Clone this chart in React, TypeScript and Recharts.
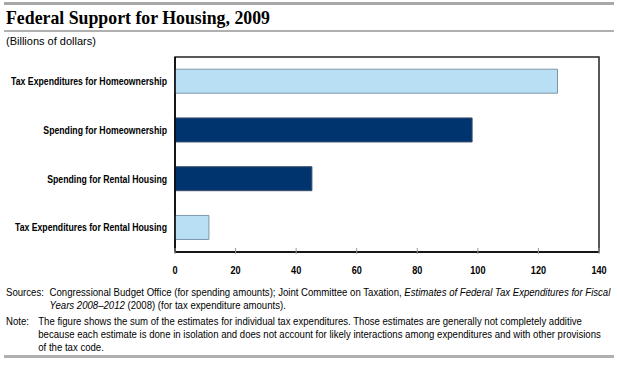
import React from 'react';
import { BarChart, Bar, XAxis, YAxis, Cell, ReferenceArea } from 'recharts';

const CATEGORIES = [
  'Tax Expenditures for Homeownership',
  'Spending for Homeownership',
  'Spending for Rental Housing',
  'Tax Expenditures for Rental Housing',
];
const VALUES = [126.3, 98.1, 45.2, 11.2];
const KINDS = ['tax', 'spending', 'spending', 'tax'];
const X_TICKS = [0, 20, 40, 60, 80, 100, 120, 140];

const FILL: Record<string, string> = { tax: '#b9dff5', spending: '#00346f' };
const EDGE: Record<string, string> = { tax: '#7d97aa', spending: '#3a4f69' };

const data = CATEGORIES.map((name, i) => ({ name, value: VALUES[i], kind: KINDS[i] }));

const sans = 'Arial, "Liberation Sans", sans-serif';
const SQUEEZE = 0.83; // the original uses a condensed face

// ticks point up into the plot, label below the axis
const XTick = (props: any) => {
  const { x, y, payload } = props;
  return (
    <g>
      <line x1={x} y1={y} x2={x} y2={y - 6} stroke="#999" strokeWidth={1} />
      <text
        transform={`translate(${x},${y + 20}) scale(${SQUEEZE},1)`}
        textAnchor="middle"
        fontFamily={sans}
        fontWeight="bold"
        fontSize={11}
        fill="#000"
      >
        {payload.value}
      </text>
    </g>
  );
};

const YTick = (props: any) => {
  const { x, y, payload } = props;
  return (
    <text
      transform={`translate(${x},${y}) scale(${SQUEEZE},1)`}
      textAnchor="end"
      dy="0.35em"
      fontFamily={sans}
      fontWeight="bold"
      fontSize={10.5}
      fill="#000"
    >
      {payload.value}
    </text>
  );
};

const App = () => {
  return (
    <div style={{ position: 'absolute', left: 0, top: 0, width: 617, height: 365, background: '#fff', fontFamily: sans }}>
      <div style={{ position: 'absolute', left: 4, top: 2, width: 610, height: 3, background: '#a8a8a8' }} />
      <div style={{ position: 'absolute', left: 6, top: 8, fontFamily: '"Liberation Serif", serif', fontWeight: 'bold', fontSize: 17.8, color: '#000', whiteSpace: 'nowrap' }}>
        Federal Support for Housing, 2009
      </div>
      <div style={{ position: 'absolute', left: 4, top: 30, width: 610, height: 2, background: '#b0b0b0' }} />
      <div style={{ position: 'absolute', left: 6, top: 35, fontSize: 11, color: '#000' }}>(Billions of dollars)</div>

      <div style={{ position: 'absolute', left: 0, top: 0 }}>
        <BarChart
          width={617}
          height={280}
          data={data}
          layout="vertical"
          margin={{ top: 57, right: 18, bottom: 0, left: 0 }}
          barCategoryGap="25%"
        >
          <XAxis
            type="number"
            domain={[0, 140]}
            ticks={X_TICKS}
            height={28}
            tickSize={0}
            tickLine={false}
            axisLine={{ stroke: '#000', strokeWidth: 1.5 }}
            tick={<XTick />}
            interval={0}
          />
          <YAxis
            type="category"
            dataKey="name"
            width={175}
            tickLine={false}
            tickSize={0}
            tickMargin={8}
            axisLine={{ stroke: '#000', strokeWidth: 1.5 }}
            tick={<YTick />}
            interval={0}
          />
          <ReferenceArea x1={0} x2={140} fill="none" stroke="#222" strokeWidth={1.5} />
          <Bar dataKey="value" isAnimationActive={false} strokeWidth={1}>
            {data.map((d, i) => (
              <Cell key={`cell-${i}`} fill={FILL[d.kind]} stroke={EDGE[d.kind]} />
            ))}
          </Bar>
        </BarChart>
      </div>

      {/* source + note, squeezed to the narrow face of the original */}
      <div
        style={{
          position: 'absolute',
          left: 6,
          top: 286,
          width: 690,
          fontSize: 11,
          lineHeight: '13px',
          color: '#000',
          whiteSpace: 'nowrap',
          transform: 'scale(0.872,1)',
          transformOrigin: '0 0',
        }}
      >
        <div style={{ position: 'relative', paddingLeft: 50 }}>
          <span style={{ position: 'absolute', left: 0 }}>Sources:</span>
          Congressional Budget Office (for spending amounts); Joint Committee on Taxation,{' '}
          <i>Estimates of Federal Tax Expenditures for Fiscal</i>
          <br />
          <i>Years 2008–2012</i> (2008) (for tax expenditure amounts).
        </div>
        <div style={{ position: 'relative', paddingLeft: 37, marginTop: 3 }}>
          <span style={{ position: 'absolute', left: 0 }}>Note:</span>
          The figure shows the sum of the estimates for individual tax expenditures. Those estimates are generally not completely additive
          <br />
          because each estimate is done in isolation and does not account for likely interactions among expenditures and with other provisions
          <br />
          of the tax code.
        </div>
      </div>
      <div style={{ position: 'absolute', left: 4, top: 355, width: 610, height: 3, background: '#b0b0b0' }} />
    </div>
  );
};

export default App;
